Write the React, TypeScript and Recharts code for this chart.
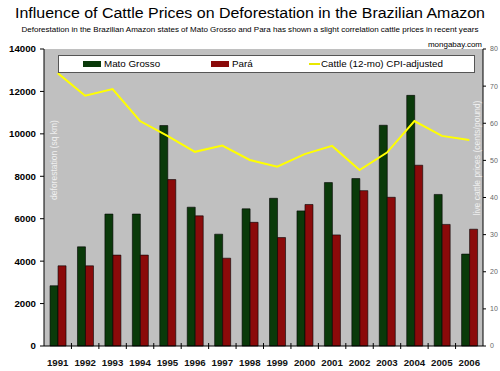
import { Bar, ComposedChart, Line, XAxis, YAxis, CartesianGrid, Legend } from 'recharts';

// Deforestation (sq km) by year, and live cattle prices (cents/pound)
const years = ['1991', '1992', '1993', '1994', '1995', '1996', '1997', '1998', '1999', '2000', '2001', '2002', '2003', '2004', '2005', '2006'];
const matoGrosso = [2840, 4674, 6220, 6220, 10391, 6543, 5271, 6466, 6963, 6369, 7703, 7892, 10405, 11814, 7145, 4333];
const para = [3780, 3780, 4284, 4284, 7845, 6135, 4139, 5829, 5111, 6671, 5237, 7324, 7010, 8521, 5731, 5505];
const cattle = [73.5, 67.4, 69.2, 60.6, 56.6, 52.3, 54.0, 50.1, 48.3, 51.7, 53.9, 47.4, 52.1, 60.6, 56.6, 55.5];

const leftTicks = [0, 2000, 4000, 6000, 8000, 10000, 12000, 14000];
const rightTicks = [0, 10, 20, 30, 40, 50, 60, 70, 80];

const data = years.map((year, i) => ({
  year,
  mato: matoGrosso[i],
  para: para[i],
  cattle: cattle[i],
}));

const FONT = 'Arial, "Liberation Sans", sans-serif';
const GREEN = '#0a3a0a';
const RED = '#8b0a0a';
const YELLOW = '#ffff00';

// plot spans x 44..483
const BAND = (483 - 44) / years.length;

const XTick = ({ x, y, payload, index }: any) => (
  <g>
    {index < years.length - 1 && (
      <line x1={x + BAND / 2} x2={x + BAND / 2} y1={y - 3} y2={y + 3} stroke="#000" />
    )}
    <text x={x} y={y + 20} textAnchor="middle" fontSize={9.7} fontWeight="bold" fontFamily={FONT} fill="#111">
      {payload.value}
    </text>
  </g>
);

const renderLegend = () => (
  <div
    style={{
      position: 'relative',
      width: 417,
      height: 18,
      background: '#fff',
      border: '1px solid #555',
      boxSizing: 'border-box',
      fontFamily: FONT,
      fontSize: 9.8,
      color: '#000',
    }}
  >
    <span style={{ position: 'absolute', left: 24, top: 5, width: 18, height: 6, background: GREEN }} />
    <span style={{ position: 'absolute', left: 45, top: 2 }}>Mato Grosso</span>
    <span style={{ position: 'absolute', left: 152, top: 5, width: 18, height: 6, background: RED }} />
    <span style={{ position: 'absolute', left: 173, top: 2 }}>Pará</span>
    <span style={{ position: 'absolute', left: 250, top: 7, width: 11, height: 1.5, background: '#e8e800' }} />
    <span style={{ position: 'absolute', left: 262, top: 2 }}>Cattle (12-mo) CPI-adjusted</span>
  </div>
);

const App = () => {
  return (
    <div style={{ position: 'absolute', left: 0, top: 0, width: 500, height: 371, background: '#fff' }}>
      <ComposedChart
        width={500}
        height={371}
        data={data}
        margin={{ top: 49, right: 0, left: 0, bottom: 0 }}
        barCategoryGap="22%"
        barGap={0}
      >
        <CartesianGrid fill="#c0c0c0" stroke="none" horizontal={false} vertical={false} />
        <XAxis
          dataKey="year"
          height={25}
          tickLine={false}
          tickSize={0}
          tickMargin={0}
          axisLine={{ stroke: '#000' }}
          tick={<XTick />}
          interval={0}
        />
        <YAxis
          yAxisId="left"
          width={44}
          domain={[0, 14000]}
          ticks={leftTicks}
          tickSize={4}
          tickMargin={4}
          axisLine={{ stroke: '#000' }}
          tickLine={{ stroke: '#000' }}
          tick={{ fill: '#000', fontSize: 9.7, fontWeight: 'bold', fontFamily: FONT }}
        />
        <YAxis
          yAxisId="right"
          orientation="right"
          width={17}
          domain={[0, 80]}
          ticks={rightTicks}
          tickSize={3}
          tickMargin={4}
          axisLine={{ stroke: '#000' }}
          tickLine={{ stroke: '#000' }}
          tick={{ fill: '#666', fontSize: 7, fontFamily: FONT }}
        />
        <Legend
          layout="vertical"
          align="center"
          verticalAlign="middle"
          content={renderLegend}
          wrapperStyle={{ left: 58, top: 55, width: 417, height: 18 }}
        />
        <Bar yAxisId="left" dataKey="mato" name="Mato Grosso" fill={GREEN} stroke="#000" strokeWidth={0.6} isAnimationActive={false} />
        <Bar yAxisId="left" dataKey="para" name="Pará" fill={RED} stroke="#000" strokeWidth={0.6} isAnimationActive={false} />
        <Line
          yAxisId="right"
          dataKey="cattle"
          name="Cattle (12-mo) CPI-adjusted"
          stroke={YELLOW}
          strokeWidth={2}
          dot={false}
          type="linear"
          isAnimationActive={false}
        />
      </ComposedChart>
      <svg
        width={500}
        height={371}
        style={{ position: 'absolute', left: 0, top: 0, pointerEvents: 'none' }}
        fontFamily={FONT}
      >
        <text x={250} y={18} textAnchor="middle" fontSize={15.5} fill="#000" textLength={470} lengthAdjust="spacingAndGlyphs">
          Influence of Cattle Prices on Deforestation in the Brazilian Amazon
        </text>
        <text x={250} y={32} textAnchor="middle" fontSize={7.5} fill="#000" textLength={457} lengthAdjust="spacingAndGlyphs">
          Deforestation in the Brazilian Amazon states of Mato Grosso and Para has shown a slight correlation cattle prices in recent years
        </text>
        <text x={482} y={47} textAnchor="end" fontSize={8} fill="#000">
          mongabay.com
        </text>
        <text x={57} y={160} textAnchor="middle" fontSize={8.5} fill="#f0f0f0" transform="rotate(-90 57 160)">
          deforestation (sq km)
        </text>
        <text x={480} y={158} textAnchor="middle" fontSize={8.5} fill="#f0f0f0" transform="rotate(-90 480 158)">
          live cattle prices (cents/pound)
        </text>
      </svg>
    </div>
  );
};

export default App;
